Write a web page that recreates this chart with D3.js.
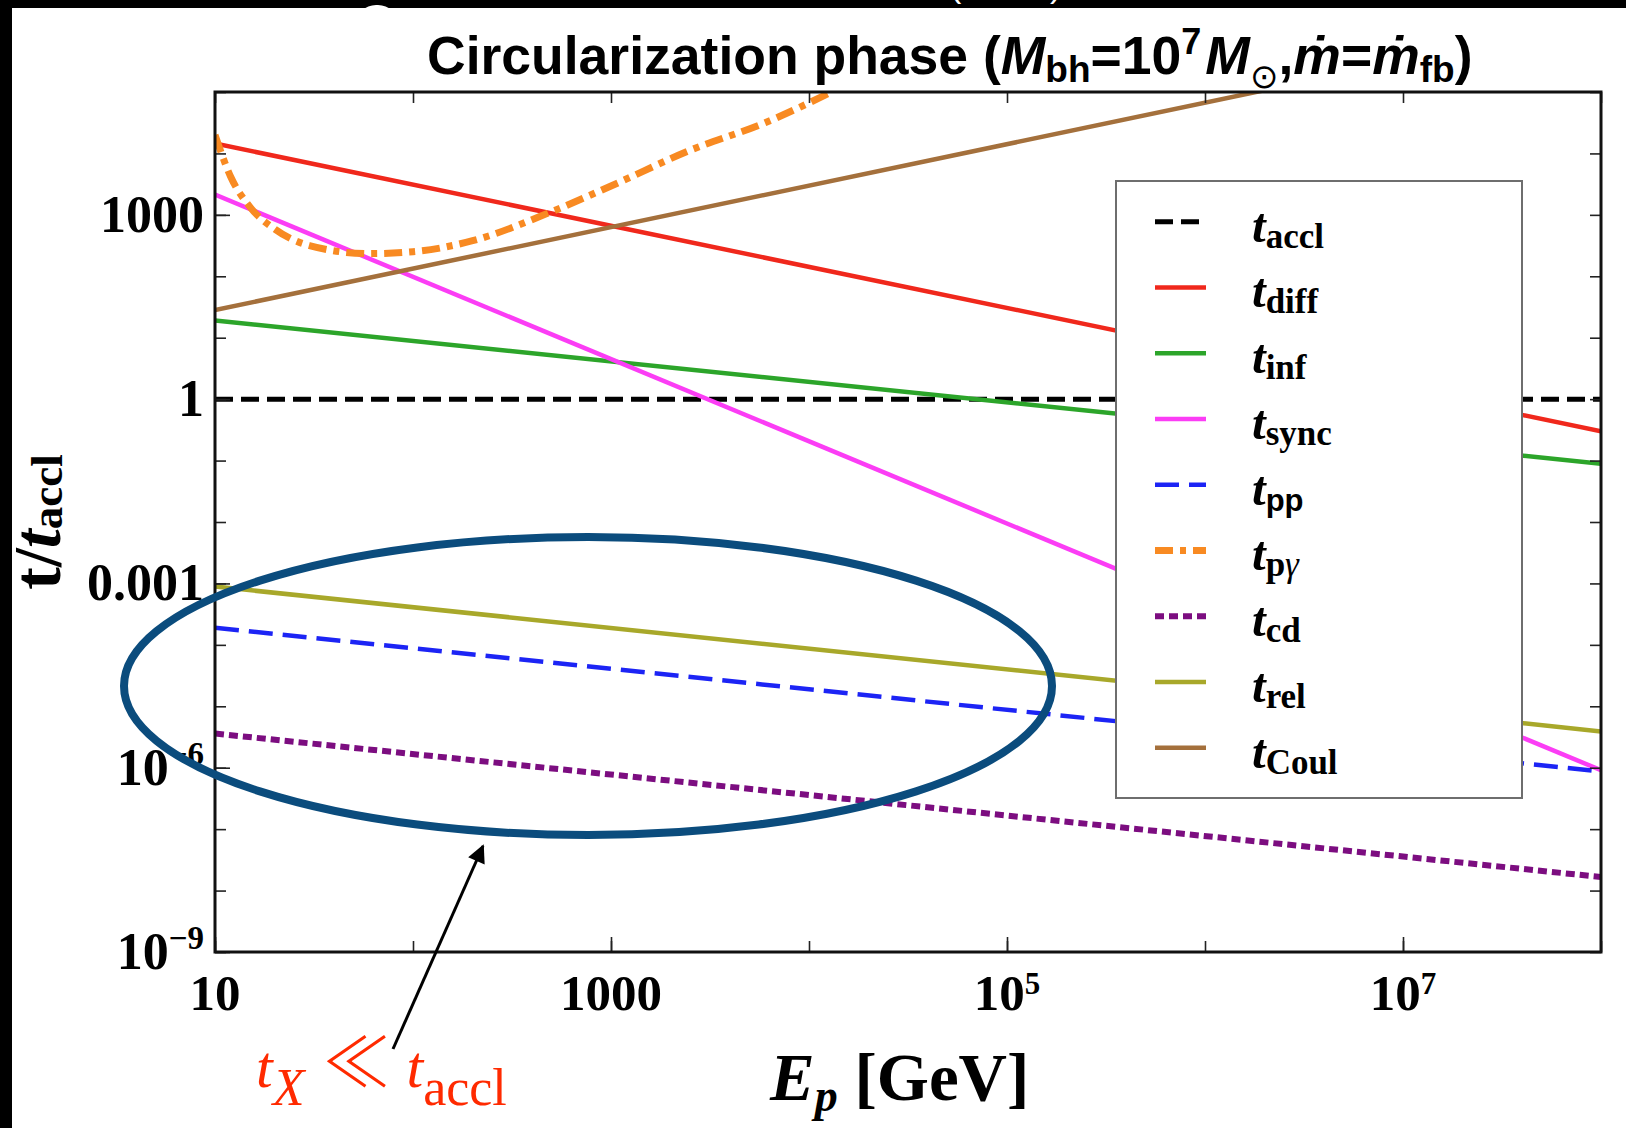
<!DOCTYPE html>
<html>
<head>
<meta charset="utf-8">
<script src="https://cdn.jsdelivr.net/npm/d3@7"></script>
<style>
  html, body { margin: 0; padding: 0; background: #fff; }
  svg { display: block; }
</style>
</head>
<body>
<svg id="chart" width="1626" height="1128"></svg>
<script>
// ---- data: timescale ratios t/t_accl versus proton energy E_p [GeV] ----
const energyEnds = [10, 1e8];               // power-law series are straight in log-log
const tAccl = [1, 1];
const tDiff = [1.45e4, 0.30];
const tInf  = [19.1, 0.089];
const tSync = [2140, 9.1e-7];
const tPp   = [1.9e-4, 8.7e-7];
const tCd   = [3.6e-6, 1.66e-8];
const tRel  = [8.9e-4, 3.9e-6];
const tCoul = [28.2, 1.5e6];

// photomeson timescale is curved, sampled along E
const pgEnergy = [10, 12, 15, 20, 30, 60, 100, 200, 500, 1000, 2500, 6000, 13000];
const tPg      = [2.0e4, 4170, 1350, 589, 316, 234, 251, 380, 1122, 2951, 1.12e4, 3.16e4, 1.0e5];

const seriesKeys   = ["accl", "diff", "inf", "sync", "pp", "pg", "cd", "rel", "Coul"];
const seriesColors = ["#000000", "#f0281c", "#2ca52a", "#fb3df5", "#1c24f5", "#f88a22", "#7c0d80", "#a8a82a", "#a4703c"];

const xTickLabels = [10, 1000, 1e5, 1e7];
const yTickLabels = [1000, 1, 0.001, 1e-6, 1e-9];

// ---- layout ----
const W = 1626, H = 1128;
const plot = { left: 215, right: 1601, top: 92, bottom: 952 };

const svg = d3.select("#chart");
const serif = "'Liberation Serif', 'Times New Roman', serif";
const sans  = "'Liberation Sans', Arial, Helvetica, sans-serif";

const x = d3.scaleLog().domain([10, 1e8]).range([plot.left, plot.right]);
const y = d3.scaleLog().domain([1e-9, 1e5]).range([plot.bottom, plot.top]);

svg.append("rect").attr("width", W).attr("height", H).attr("fill", "#fff");

// dark frame strips around the figure
svg.append("rect").attr("x", 0).attr("y", 0).attr("width", W).attr("height", 8).attr("fill", "#000");
svg.append("rect").attr("x", 0).attr("y", 0).attr("width", 12).attr("height", H).attr("fill", "#000");
svg.append("text").attr("x", 950).attr("y", -3).attr("font-family", sans).attr("font-size", 34)
  .attr("fill", "#fff").text("(");
svg.append("text").attr("x", 1050).attr("y", -3).attr("font-family", sans).attr("font-size", 34)
  .attr("fill", "#fff").text(")");
svg.append("rect").attr("x", 356).attr("y", 5).attr("width", 42).attr("height", 86)
  .attr("rx", 20).attr("fill", "#fff");

// ---- series lines ----
const defs = svg.append("defs");
defs.append("clipPath").attr("id", "plotClip").append("rect")
  .attr("x", plot.left).attr("y", plot.top)
  .attr("width", plot.right - plot.left).attr("height", plot.bottom - plot.top);

const styles = {
  accl: { width: 5, dash: "18,8" },
  diff: { width: 4.5, dash: null },
  inf:  { width: 4.5, dash: null },
  sync: { width: 4.5, dash: null },
  pp:   { width: 4.5, dash: "24,10" },
  pg:   { width: 7, dash: "18,7,6,7" },
  cd:   { width: 6, dash: "9,5" },
  rel:  { width: 4.5, dash: null },
  Coul: { width: 4.5, dash: null }
};

const seriesData = {
  accl: energyEnds.map((e, i) => [e, tAccl[i]]),
  diff: energyEnds.map((e, i) => [e, tDiff[i]]),
  inf:  energyEnds.map((e, i) => [e, tInf[i]]),
  sync: energyEnds.map((e, i) => [e, tSync[i]]),
  pp:   energyEnds.map((e, i) => [e, tPp[i]]),
  pg:   pgEnergy.map((e, i) => [e, tPg[i]]),
  cd:   energyEnds.map((e, i) => [e, tCd[i]]),
  rel:  energyEnds.map((e, i) => [e, tRel[i]]),
  Coul: energyEnds.map((e, i) => [e, tCoul[i]])
};

const line = d3.line().x(d => x(d[0])).y(d => y(d[1]));
const curve = d3.line().x(d => x(d[0])).y(d => y(d[1])).curve(d3.curveMonotoneX);

const gLines = svg.append("g").attr("clip-path", "url(#plotClip)");
seriesKeys.forEach((k, i) => {
  gLines.append("path")
    .attr("d", (k === "pg" ? curve : line)(seriesData[k]))
    .attr("fill", "none")
    .attr("stroke", seriesColors[i])
    .attr("stroke-width", styles[k].width)
    .attr("stroke-dasharray", styles[k].dash);
});

// ---- legend ----
const legend = svg.append("g");
legend.append("rect").attr("x", 1116).attr("y", 181).attr("width", 406).attr("height", 617)
  .attr("fill", "#fff").attr("stroke", "#6e6e6e").attr("stroke-width", 2);

seriesKeys.forEach((k, i) => {
  const ly = 221.7 + i * 65.75;
  legend.append("line").attr("x1", 1155).attr("x2", 1206).attr("y1", ly).attr("y2", ly)
    .attr("stroke", seriesColors[i]).attr("stroke-width", styles[k].width)
    .attr("stroke-dasharray", styles[k].dash);
  const t = legend.append("text").attr("x", 1252).attr("y", ly + 20)
    .attr("font-family", serif).attr("font-weight", "bold").attr("font-size", 49).attr("fill", "#000");
  t.append("tspan").attr("font-style", "italic").text("t");
  if (k === "pp") {
    t.append("tspan").attr("font-family", sans).attr("font-size", 31).attr("dy", 6).text("pp");
  } else if (k === "pg") {
    t.append("tspan").attr("font-size", 35).attr("dy", 6).text("p");
    t.append("tspan").attr("font-size", 35).attr("font-style", "italic").attr("font-weight", "normal").text("γ");
  } else {
    t.append("tspan").attr("font-size", 35).attr("dy", 6).text(k);
  }
});

// ---- axes frame and ticks ----
const decadesX = d3.range(1, 9).map(p => Math.pow(10, p));
const decadesY = d3.range(-9, 6).map(p => Math.pow(10, p));
const tickStroke = g => g.selectAll("line").attr("stroke", "#222").attr("stroke-width", 1.6);

function tickAxis(axisFn, scale, values, len, transform) {
  const g = svg.append("g").attr("transform", transform)
    .call(axisFn(scale).tickValues(values).tickSizeInner(len).tickSizeOuter(0).tickFormat(""));
  g.select(".domain").remove();
  g.call(tickStroke);
  return g;
}
// inward ticks on all four sides
tickAxis(d3.axisBottom, x, decadesX, -11, `translate(0,${plot.bottom})`);
tickAxis(d3.axisBottom, x, xTickLabels, -15, `translate(0,${plot.bottom})`);
tickAxis(d3.axisTop, x, decadesX, -11, `translate(0,${plot.top})`);
tickAxis(d3.axisLeft, y, decadesY, -11, `translate(${plot.left},0)`);
tickAxis(d3.axisLeft, y, yTickLabels, -15, `translate(${plot.left},0)`);
tickAxis(d3.axisRight, y, decadesY, -11, `translate(${plot.right},0)`);

svg.append("rect").attr("x", plot.left).attr("y", plot.top)
  .attr("width", plot.right - plot.left).attr("height", plot.bottom - plot.top)
  .attr("fill", "none").attr("stroke", "#111").attr("stroke-width", 3);

// ---- tick labels ----
function exponentParts(v) {
  const p = Math.round(Math.log10(v));
  if (p >= -3 && p <= 3) return { base: String(v), sup: null };
  return { base: "10", sup: (p < 0 ? "\u2212" : "") + Math.abs(p) };
}

xTickLabels.forEach(v => {
  const parts = exponentParts(v);
  const t = svg.append("text").attr("x", x(v)).attr("y", 1010).attr("text-anchor", "middle")
    .attr("font-family", serif).attr("font-weight", "bold").attr("font-size", 51).attr("fill", "#000");
  t.append("tspan").text(parts.base);
  if (parts.sup) t.append("tspan").attr("font-size", 31).attr("dy", -16).text(parts.sup);
});

yTickLabels.forEach(v => {
  const parts = exponentParts(v);
  const t = svg.append("text").attr("x", 204).attr("y", y(v) + 17).attr("text-anchor", "end")
    .attr("font-family", serif).attr("font-weight", "bold").attr("font-size", 52).attr("fill", "#000");
  t.append("tspan").text(parts.base);
  if (parts.sup) t.append("tspan").attr("font-size", 33).attr("dy", -20).text(parts.sup);
});

// ---- title ----
const title = svg.append("text").attr("x", 427).attr("y", 74)
  .attr("font-family", sans).attr("font-weight", "bold").attr("font-size", 53.5).attr("fill", "#000");
title.append("tspan").text("Circularization phase (");
title.append("tspan").attr("font-style", "italic").text("M");
title.append("tspan").attr("font-size", 37).attr("dy", 8).text("bh");
title.append("tspan").attr("dy", -8).text("=10");
title.append("tspan").attr("font-size", 36).attr("dy", -20).text("7");
title.append("tspan").attr("font-style", "italic").attr("dy", 20).attr("dx", 4).text("M");
title.append("tspan").attr("font-family", "'DejaVu Sans', sans-serif").attr("font-weight", "normal")
  .attr("font-size", 34).attr("dy", 14).text("\u2299");
title.append("tspan").attr("dy", -14).text(",");
title.append("tspan").attr("font-style", "italic").text("\u1E41");
title.append("tspan").text("=");
title.append("tspan").attr("font-style", "italic").text("\u1E41");
title.append("tspan").attr("font-size", 37).attr("dy", 8).text("fb");
title.append("tspan").attr("dy", -8).text(")");

// ---- axis titles ----
const xTitle = svg.append("text").attr("x", 770).attr("y", 1100)
  .attr("font-family", serif).attr("font-weight", "bold").attr("font-size", 67).attr("fill", "#000");
xTitle.append("tspan").attr("font-style", "italic").text("E");
xTitle.append("tspan").attr("font-style", "italic").attr("font-size", 46).attr("dy", 11).text("p");
xTitle.append("tspan").attr("dy", -11).text(" [GeV]");

const yTitle = svg.append("text").attr("transform", "translate(60,522) rotate(-90)")
  .attr("text-anchor", "middle")
  .attr("font-family", serif).attr("font-weight", "bold").attr("font-size", 68).attr("fill", "#000");
yTitle.append("tspan").text("t/");
yTitle.append("tspan").attr("font-style", "italic").text("t");
yTitle.append("tspan").attr("font-size", 45).attr("dy", 2).text("accl");

// ---- annotation: highlighted region, arrow and note ----
svg.append("ellipse").attr("cx", 588).attr("cy", 686).attr("rx", 464).attr("ry", 149)
  .attr("fill", "none").attr("stroke", "#0b4c7d").attr("stroke-width", 8);

defs.append("marker").attr("id", "arrowHead").attr("viewBox", "0 0 10 10")
  .attr("refX", 9).attr("refY", 5).attr("markerWidth", 7).attr("markerHeight", 6)
  .attr("markerUnits", "strokeWidth").attr("orient", "auto")
  .append("path").attr("d", "M0,0 L10,5 L0,10 z").attr("fill", "#000");
svg.append("line").attr("x1", 393).attr("y1", 1049).attr("x2", 483).attr("y2", 846)
  .attr("stroke", "#000").attr("stroke-width", 3).attr("marker-end", "url(#arrowHead)");

const note = svg.append("text").attr("x", 256).attr("y", 1087)
  .attr("font-family", serif).attr("font-size", 60).attr("fill", "#ff2a00");
note.append("tspan").attr("font-style", "italic").text("t");
note.append("tspan").attr("font-style", "italic").attr("font-size", 52).attr("dy", 18).text("X");
note.append("tspan").attr("font-family", "'Noto Sans CJK JP', 'DejaVu Sans', sans-serif")
  .attr("font-weight", 300).attr("font-size", 68)
  .attr("dy", -18).attr("dx", 18).text("\u226A");
note.append("tspan").attr("font-style", "italic").attr("dx", 16).text("t");
note.append("tspan").attr("font-size", 52).attr("dy", 18).text("accl");
</script>
</body>
</html>
